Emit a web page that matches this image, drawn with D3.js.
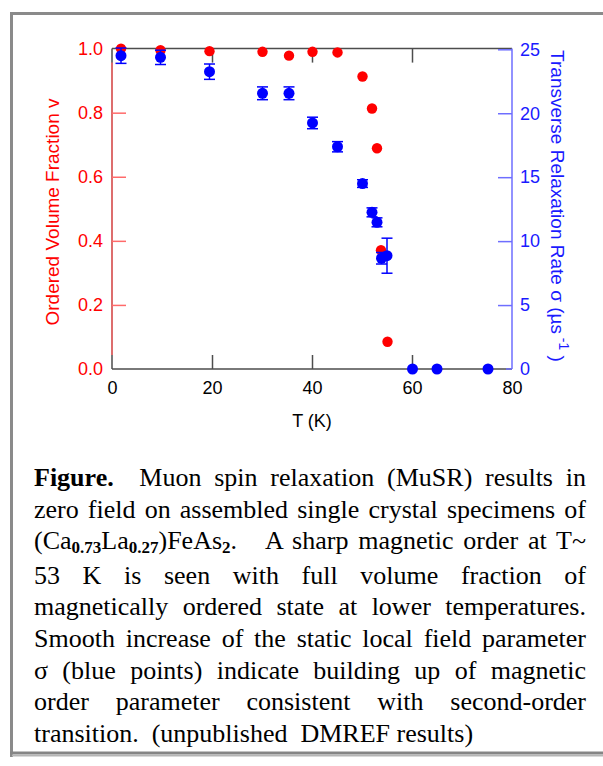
<!DOCTYPE html>
<html>
<head>
<meta charset="utf-8">
<script src="https://cdn.jsdelivr.net/npm/d3@7/dist/d3.min.js"></script>
<style>
  html, body { margin:0; padding:0; background:#fff; }
  #wrap { position:relative; width:603px; height:766px; overflow:hidden; }
  svg { position:absolute; left:0; top:0; }
  #caption { position:absolute; left:34px; top:462px; width:552px;
    font-family:"Liberation Serif","Times New Roman",serif; font-size:26px; line-height:31.6px; color:#000; }
  #caption .ln { text-align:justify; text-align-last:justify; white-space:normal; }
  #caption .last { text-align:left; text-align-last:left; }
  #caption sub { font-size:17px; font-weight:bold; vertical-align:baseline; position:relative; top:4px; }
</style>
</head>
<body>
<div id="wrap">
<svg id="chart" width="603" height="766"></svg>
<div id="caption">
  <div class="ln"><b>Figure.</b>&nbsp; Muon spin relaxation (MuSR) results in</div>
  <div class="ln">zero field on assembled single crystal specimens of</div>
  <div class="ln">(Ca<sub>0.73</sub>La<sub>0.27</sub>)FeAs<sub>2</sub>.&nbsp;&nbsp; A sharp magnetic order at T~</div>
  <div class="ln">53 K is seen with full volume fraction of</div>
  <div class="ln">magnetically ordered state at lower temperatures.</div>
  <div class="ln">Smooth increase of the static local field parameter</div>
  <div class="ln">σ (blue points) indicate building up of magnetic</div>
  <div class="ln">order parameter consistent with second-order</div>
  <div class="ln last">transition.&nbsp; (unpublished&nbsp; DMREF results)</div>
</div>
</div>
<script>
// ---- data ----
const redT   = [1.8, 9.7, 19.5, 30.1, 35.4, 40.1, 45.1, 50.1, 52.0, 53.0, 53.8, 55.1];
const redV   = [1.0, 0.995, 0.992, 0.99, 0.978, 0.99, 0.988, 0.913, 0.813, 0.689, 0.371, 0.085];
const blueT  = [1.8, 9.7, 19.5, 30.1, 35.4, 40.1, 45.1, 50.1, 52.0, 53.0, 53.9, 55.0, 60.1, 65.0, 75.2];
const blueS  = [24.5, 24.37, 23.25, 21.56, 21.56, 19.24, 17.38, 14.5, 12.25, 11.47, 8.66, 8.86, 0, 0, 0];
const blueE  = [0.6, 0.56, 0.6, 0.5, 0.5, 0.45, 0.4, 0.3, 0.35, 0.35, 0.45, 1.37, 0, 0, 0];
const xTicks = [0, 20, 40, 60, 80];
const yLTicks = [0, 0.2, 0.4, 0.6, 0.8, 1.0];
const yRTicks = [0, 5, 10, 15, 20, 25];
const xLabel = "T (K)";
const yLLabel = "Ordered Volume Fraction v";
const yRLabel = "Transverse Relaxation Rate σ (µs";

const svg = d3.select("#chart");
const L = 112, R = 512, B = 369, TL = 48.6, TR = 49.3, TK = 14;
const x = d3.scaleLinear().domain([0, 80]).range([L, R]);
const yL = d3.scaleLinear().domain([0, 1]).range([B, TL]);
const yR = d3.scaleLinear().domain([0, 25]).range([B, TR]);

const gray = "#4d4d4d", pink = "#ff6a6a", lblue = "#6e6eff";
const fontS = "'Liberation Sans', Arial, sans-serif";

// outer page frame
svg.append("line").attr("x1", 11.5).attr("x2", 11.5).attr("y1", 12).attr("y2", 757).attr("stroke", "#8a8a8a").attr("stroke-width", 3);
svg.append("line").attr("x1", 10).attr("x2", 603).attr("y1", 13.5).attr("y2", 13.5).attr("stroke", "#8a8a8a").attr("stroke-width", 3);
svg.append("line").attr("x1", 10).attr("x2", 603).attr("y1", 753).attr("y2", 753).attr("stroke", "#858585").attr("stroke-width", 3);
svg.append("line").attr("x1", 12).attr("x2", 603).attr("y1", 755.5).attr("y2", 755.5).attr("stroke", "#b5b5b5").attr("stroke-width", 2);

// gray frame lines
svg.append("line").attr("x1", L).attr("x2", R).attr("y1", TL).attr("y2", TL).attr("stroke", gray).attr("stroke-width", 1.5);
svg.append("line").attr("x1", L).attr("x2", R).attr("y1", B).attr("y2", B).attr("stroke", gray).attr("stroke-width", 1.5);
svg.append("line").attr("x1", L).attr("x2", L).attr("y1", TL).attr("y2", B).attr("stroke", gray).attr("stroke-width", 1.5);

// top axis ticks (no labels)
const topAx = svg.append("g").attr("transform", `translate(0,${TL})`)
  .call(d3.axisTop(x).tickValues([20, 40, 60]).tickSizeInner(-TK).tickSizeOuter(0).tickFormat(""));
topAx.select(".domain").remove();
topAx.selectAll("line").attr("stroke", gray).attr("stroke-width", 1.5);

// bottom axis
const botAx = svg.append("g").attr("transform", `translate(0,${B})`)
  .call(d3.axisBottom(x).tickValues(xTicks).tickSizeInner(-TK).tickSizeOuter(0).tickPadding(12.7).tickFormat(d3.format("d")));
botAx.select(".domain").remove();
botAx.selectAll(".tick").filter(d => d === 0 || d === 80).select("line").remove();
botAx.selectAll("line").attr("stroke", gray).attr("stroke-width", 1.5);
botAx.selectAll("text").attr("fill", "#000").attr("font-family", fontS).attr("font-size", 18);

// left axis (red)
svg.append("line").attr("x1", L).attr("x2", L).attr("y1", yL(0) - TK).attr("y2", yL(1) + TK).attr("stroke", pink).attr("stroke-width", 1.5);
const leftAx = svg.append("g").attr("transform", `translate(${L},0)`)
  .call(d3.axisLeft(yL).tickValues(yLTicks).tickSizeInner(-TK).tickSizeOuter(0).tickPadding(9).tickFormat(d3.format(".1f")));
leftAx.select(".domain").remove();
leftAx.selectAll(".tick").filter(d => d === 0 || d === 1).select("line").remove();
leftAx.selectAll("line").attr("stroke", pink).attr("stroke-width", 1.5);
leftAx.selectAll("text").attr("fill", "#ff0000").attr("font-family", fontS).attr("font-size", 18);

// right axis (blue)
svg.append("line").attr("x1", R - 6).attr("x2", R).attr("y1", B).attr("y2", B).attr("stroke", lblue).attr("stroke-width", 1.5);
svg.append("line").attr("x1", R).attr("x2", R).attr("y1", TL).attr("y2", B).attr("stroke", lblue).attr("stroke-width", 1.5);
const rightAx = svg.append("g").attr("transform", `translate(${R},0)`)
  .call(d3.axisRight(yR).tickValues(yRTicks).tickSizeInner(-TK).tickSizeOuter(0).tickPadding(8).tickFormat(d3.format("d")));
rightAx.select(".domain").remove();
rightAx.selectAll(".tick").filter(d => d === 0).select("line").remove();
rightAx.selectAll("line").attr("stroke", lblue).attr("stroke-width", 1.5);
rightAx.selectAll("text").attr("fill", "#1a1aff").attr("font-family", fontS).attr("font-size", 18);

// axis titles
svg.append("text").attr("x", (L + R) / 2).attr("y", 427).attr("text-anchor", "middle")
  .attr("font-family", fontS).attr("font-size", 18).attr("fill", "#000").text(xLabel);
svg.append("text").attr("transform", `translate(59,212) rotate(-90)`).attr("text-anchor", "middle")
  .attr("font-family", fontS).attr("font-size", 19).attr("fill", "#ff0000").text(yLLabel);
const rt = svg.append("text").attr("transform", `translate(551,206) rotate(90)`).attr("text-anchor", "middle")
  .attr("font-family", fontS).attr("font-size", 19).attr("fill", "#1a1aff");
rt.append("tspan").text(yRLabel);
rt.append("tspan").attr("dy", -8).attr("font-size", 14).text(" -1");
rt.append("tspan").attr("dy", 8).text(" )");

// red points
const redData = redT.map((t, i) => ({t, v: redV[i]}));
svg.append("g").selectAll("circle").data(redData).join("circle")
  .attr("cx", d => x(d.t)).attr("cy", d => yL(d.v)).attr("r", 5.2).attr("fill", "#ff0000");

// blue error bars and points
const blueData = blueT.map((t, i) => ({t, s: blueS[i], e: blueE[i]}));
const eb = svg.append("g").attr("stroke", "#0000ff").attr("stroke-width", 1.5);
blueData.filter(d => d.e > 0).forEach(d => {
  eb.append("line").attr("x1", x(d.t)).attr("x2", x(d.t)).attr("y1", yR(d.s - d.e)).attr("y2", yR(d.s + d.e));
  eb.append("line").attr("x1", x(d.t) - 5.5).attr("x2", x(d.t) + 5.5).attr("y1", yR(d.s - d.e)).attr("y2", yR(d.s - d.e));
  eb.append("line").attr("x1", x(d.t) - 5.5).attr("x2", x(d.t) + 5.5).attr("y1", yR(d.s + d.e)).attr("y2", yR(d.s + d.e));
});
svg.append("g").selectAll("circle").data(blueData).join("circle")
  .attr("cx", d => x(d.t)).attr("cy", d => yR(d.s)).attr("r", 5.5).attr("fill", "#0000ff");
</script>
</body>
</html>
